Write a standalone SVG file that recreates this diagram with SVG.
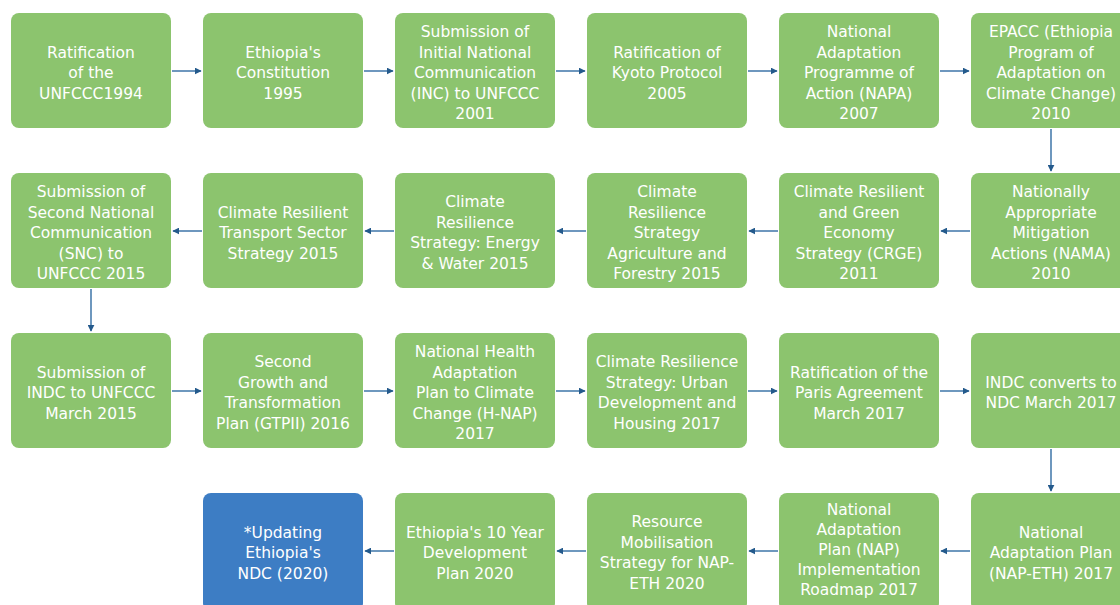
<svg xmlns="http://www.w3.org/2000/svg" width="1120" height="605" viewBox="0 0 1120 605">
<style>
.box{fill:#8cc46e;}
.blue{fill:#3d7dc4;}
.t{font-family:"DejaVu Sans","Open Sans",sans-serif;font-size:15.5px;fill:#ffffff;text-anchor:middle;}
.c{stroke:#4a7eae;stroke-width:1.6;fill:none;marker-end:url(#ah);}
</style>
<defs>
<marker id="ah" viewBox="0 0 10 10" refX="9" refY="5" markerWidth="7" markerHeight="7" markerUnits="userSpaceOnUse" orient="auto">
<path d="M0,0 L10,5 L0,10 Z" fill="#245a8c"/>
</marker>
</defs>
<rect width="1120" height="605" fill="#ffffff"/>
<g id="connectors">
<line class="c" x1="172" y1="71" x2="201" y2="71"/>
<line class="c" x1="364" y1="71" x2="393" y2="71"/>
<line class="c" x1="556" y1="71" x2="585" y2="71"/>
<line class="c" x1="748" y1="71" x2="777" y2="71"/>
<line class="c" x1="940" y1="71" x2="969" y2="71"/>
<line class="c" x1="1051" y1="129" x2="1051" y2="171"/>
<line class="c" x1="970" y1="231" x2="941" y2="231"/>
<line class="c" x1="778" y1="231" x2="749" y2="231"/>
<line class="c" x1="586" y1="231" x2="557" y2="231"/>
<line class="c" x1="394" y1="231" x2="365" y2="231"/>
<line class="c" x1="202" y1="231" x2="173" y2="231"/>
<line class="c" x1="91" y1="289" x2="91" y2="331"/>
<line class="c" x1="172" y1="391" x2="201" y2="391"/>
<line class="c" x1="364" y1="391" x2="393" y2="391"/>
<line class="c" x1="556" y1="391" x2="585" y2="391"/>
<line class="c" x1="748" y1="391" x2="777" y2="391"/>
<line class="c" x1="940" y1="391" x2="969" y2="391"/>
<line class="c" x1="1051" y1="449" x2="1051" y2="491"/>
<line class="c" x1="970" y1="551" x2="941" y2="551"/>
<line class="c" x1="778" y1="551" x2="749" y2="551"/>
<line class="c" x1="586" y1="551" x2="557" y2="551"/>
<line class="c" x1="394" y1="551" x2="365" y2="551"/>
</g>
<g id="n1"><rect class="box" x="11" y="13" width="160" height="115" rx="8"/><text class="t" x="91" y="57.5"><tspan x="91">Ratification</tspan><tspan x="91" dy="20.5">of the</tspan><tspan x="91" dy="20.5">UNFCCC1994</tspan></text></g>
<g id="n2"><rect class="box" x="203" y="13" width="160" height="115" rx="8"/><text class="t" x="283" y="57.5"><tspan x="283">Ethiopia's</tspan><tspan x="283" dy="20.5">Constitution</tspan><tspan x="283" dy="20.5">1995</tspan></text></g>
<g id="n3"><rect class="box" x="395" y="13" width="160" height="115" rx="8"/><text class="t" x="475" y="37"><tspan x="475">Submission of</tspan><tspan x="475" dy="20.5">Initial National</tspan><tspan x="475" dy="20.5">Communication</tspan><tspan x="475" dy="20.5">(INC) to UNFCCC</tspan><tspan x="475" dy="20.5">2001</tspan></text></g>
<g id="n4"><rect class="box" x="587" y="13" width="160" height="115" rx="8"/><text class="t" x="667" y="57.5"><tspan x="667">Ratification of</tspan><tspan x="667" dy="20.5">Kyoto Protocol</tspan><tspan x="667" dy="20.5">2005</tspan></text></g>
<g id="n5"><rect class="box" x="779" y="13" width="160" height="115" rx="8"/><text class="t" x="859" y="37"><tspan x="859">National</tspan><tspan x="859" dy="20.5">Adaptation</tspan><tspan x="859" dy="20.5">Programme of</tspan><tspan x="859" dy="20.5">Action (NAPA)</tspan><tspan x="859" dy="20.5">2007</tspan></text></g>
<g id="n6"><rect class="box" x="971" y="13" width="160" height="115" rx="8"/><text class="t" x="1051" y="37"><tspan x="1051">EPACC (Ethiopia</tspan><tspan x="1051" dy="20.5">Program of</tspan><tspan x="1051" dy="20.5">Adaptation on</tspan><tspan x="1051" dy="20.5">Climate Change)</tspan><tspan x="1051" dy="20.5">2010</tspan></text></g>
<g id="n7"><rect class="box" x="971" y="173" width="160" height="115" rx="8"/><text class="t" x="1051" y="197"><tspan x="1051">Nationally</tspan><tspan x="1051" dy="20.5">Appropriate</tspan><tspan x="1051" dy="20.5">Mitigation</tspan><tspan x="1051" dy="20.5">Actions (NAMA)</tspan><tspan x="1051" dy="20.5">2010</tspan></text></g>
<g id="n8"><rect class="box" x="779" y="173" width="160" height="115" rx="8"/><text class="t" x="859" y="197"><tspan x="859">Climate Resilient</tspan><tspan x="859" dy="20.5">and Green</tspan><tspan x="859" dy="20.5">Economy</tspan><tspan x="859" dy="20.5">Strategy (CRGE)</tspan><tspan x="859" dy="20.5">2011</tspan></text></g>
<g id="n9"><rect class="box" x="587" y="173" width="160" height="115" rx="8"/><text class="t" x="667" y="197"><tspan x="667">Climate</tspan><tspan x="667" dy="20.5">Resilience</tspan><tspan x="667" dy="20.5">Strategy</tspan><tspan x="667" dy="20.5">Agriculture and</tspan><tspan x="667" dy="20.5">Forestry 2015</tspan></text></g>
<g id="n10"><rect class="box" x="395" y="173" width="160" height="115" rx="8"/><text class="t" x="475" y="207.25"><tspan x="475">Climate</tspan><tspan x="475" dy="20.5">Resilience</tspan><tspan x="475" dy="20.5">Strategy: Energy</tspan><tspan x="475" dy="20.5">&amp; Water 2015</tspan></text></g>
<g id="n11"><rect class="box" x="203" y="173" width="160" height="115" rx="8"/><text class="t" x="283" y="217.5"><tspan x="283">Climate Resilient</tspan><tspan x="283" dy="20.5">Transport Sector</tspan><tspan x="283" dy="20.5">Strategy 2015</tspan></text></g>
<g id="n12"><rect class="box" x="11" y="173" width="160" height="115" rx="8"/><text class="t" x="91" y="197"><tspan x="91">Submission of</tspan><tspan x="91" dy="20.5">Second National</tspan><tspan x="91" dy="20.5">Communication</tspan><tspan x="91" dy="20.5">(SNC) to</tspan><tspan x="91" dy="20.5">UNFCCC 2015</tspan></text></g>
<g id="n13"><rect class="box" x="11" y="333" width="160" height="115" rx="8"/><text class="t" x="91" y="377.5"><tspan x="91">Submission of</tspan><tspan x="91" dy="20.5">INDC to UNFCCC</tspan><tspan x="91" dy="20.5">March 2015</tspan></text></g>
<g id="n14"><rect class="box" x="203" y="333" width="160" height="115" rx="8"/><text class="t" x="283" y="367.25"><tspan x="283">Second</tspan><tspan x="283" dy="20.5">Growth and</tspan><tspan x="283" dy="20.5">Transformation</tspan><tspan x="283" dy="20.5">Plan (GTPII) 2016</tspan></text></g>
<g id="n15"><rect class="box" x="395" y="333" width="160" height="115" rx="8"/><text class="t" x="475" y="357"><tspan x="475">National Health</tspan><tspan x="475" dy="20.5">Adaptation</tspan><tspan x="475" dy="20.5">Plan to Climate</tspan><tspan x="475" dy="20.5">Change (H-NAP)</tspan><tspan x="475" dy="20.5">2017</tspan></text></g>
<g id="n16"><rect class="box" x="587" y="333" width="160" height="115" rx="8"/><text class="t" x="667" y="367.25"><tspan x="667">Climate Resilience</tspan><tspan x="667" dy="20.5">Strategy: Urban</tspan><tspan x="667" dy="20.5">Development and</tspan><tspan x="667" dy="20.5">Housing 2017</tspan></text></g>
<g id="n17"><rect class="box" x="779" y="333" width="160" height="115" rx="8"/><text class="t" x="859" y="377.5"><tspan x="859">Ratification of the</tspan><tspan x="859" dy="20.5">Paris Agreement</tspan><tspan x="859" dy="20.5">March 2017</tspan></text></g>
<g id="n18"><rect class="box" x="971" y="333" width="160" height="115" rx="8"/><text class="t" x="1051" y="387.75"><tspan x="1051">INDC converts to</tspan><tspan x="1051" dy="20.5">NDC March 2017</tspan></text></g>
<g id="n19"><rect class="box" x="971" y="493" width="160" height="118" rx="8"/><text class="t" x="1051" y="537.5"><tspan x="1051">National</tspan><tspan x="1051" dy="20.5">Adaptation Plan</tspan><tspan x="1051" dy="20.5">(NAP-ETH) 2017</tspan></text></g>
<g id="n20"><rect class="box" x="779" y="493" width="160" height="118" rx="8"/><text class="t" x="859" y="515"><tspan x="859">National</tspan><tspan x="859" dy="20">Adaptation</tspan><tspan x="859" dy="20">Plan (NAP)</tspan><tspan x="859" dy="20">Implementation</tspan><tspan x="859" dy="20">Roadmap 2017</tspan></text></g>
<g id="n21"><rect class="box" x="587" y="493" width="160" height="118" rx="8"/><text class="t" x="667" y="527.25"><tspan x="667">Resource</tspan><tspan x="667" dy="20.5">Mobilisation</tspan><tspan x="667" dy="20.5">Strategy for NAP-</tspan><tspan x="667" dy="20.5">ETH 2020</tspan></text></g>
<g id="n22"><rect class="box" x="395" y="493" width="160" height="118" rx="8"/><text class="t" x="475" y="537.5"><tspan x="475">Ethiopia's 10 Year</tspan><tspan x="475" dy="20.5">Development</tspan><tspan x="475" dy="20.5">Plan 2020</tspan></text></g>
<g id="n23"><rect class="blue" x="203" y="493" width="160" height="118" rx="8"/><text class="t" x="283" y="537.5"><tspan x="283">*Updating</tspan><tspan x="283" dy="20.5">Ethiopia's</tspan><tspan x="283" dy="20.5">NDC (2020)</tspan></text></g>
</svg>
